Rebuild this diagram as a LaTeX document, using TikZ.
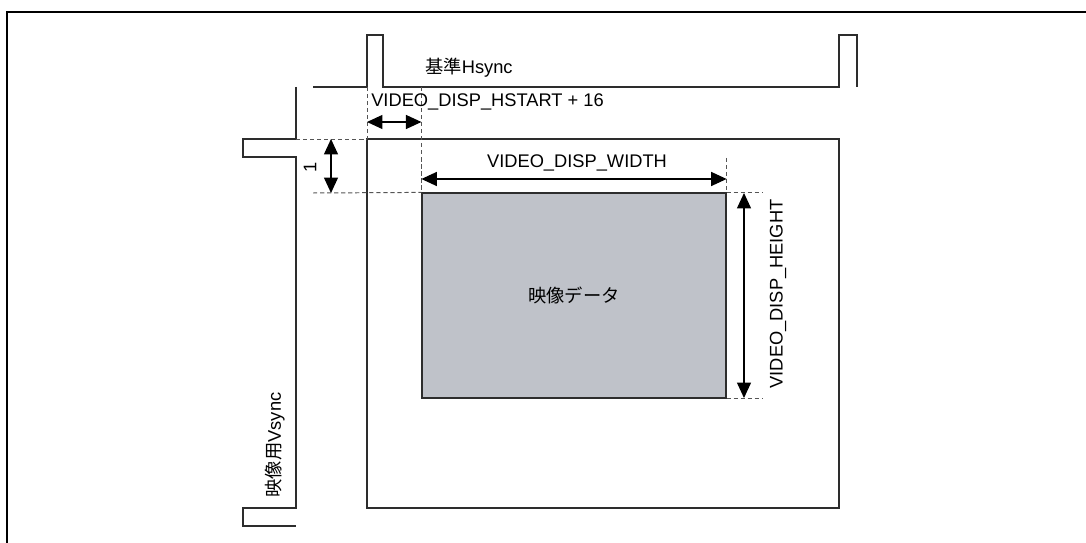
\documentclass[tikz,border=0pt]{standalone}
\usepackage{fontspec}
\setmainfont{Liberation Sans}
\newfontfamily\jpfont{Noto Sans CJK JP}
\usetikzlibrary{arrows.meta,positioning,calc}
\definecolor{lineDark}{RGB}{45, 45, 45}
\definecolor{guideGray}{RGB}{85, 85, 85}
\definecolor{dataGray}{RGB}{191, 194, 201}

\begin{document}
\begin{tikzpicture}[x=0.025cm, y=-0.025cm, font=\fontsize{13pt}{15pt}\selectfont,
    sigline/.style={draw=lineDark, line width=0.8pt},
    guide/.style={draw=guideGray, line width=0.7pt, dash pattern=on 3pt off 2pt},
    dimarrow/.style={{Triangle[length=11pt, width=10pt]}-{Triangle[length=11pt, width=10pt]}, draw=black, line width=0.8pt},
    dimlabel/.style={inner sep=0pt}]
  \useasboundingbox (0,0) rectangle (1086,543);

  % outer frame (only top and left edges are visible)
  \draw[line width=1.5pt] (7,543) -- (7,12) -- (1086,12);

  % key points
  \coordinate (hsStart) at (313,87);
  \coordinate (vsStart) at (296,87);
  \coordinate (winNW) at (367,139);
  \coordinate (winSE) at (839,508);

  % sync signals
  \draw[sigline] (hsStart) -| (367,35) -| (383,87) -| (839,35) -| (857,87);
  \draw[sigline] (vsStart) |- (243,139) |- (296,157) |- (243,508) |- (296,526);

  % window and picture area
  \draw[sigline] (winNW) rectangle (winSE);
  \node (data) [fill=dataGray, draw=lineDark, line width=0.8pt, inner sep=0pt,
      minimum width=7.6cm, minimum height=5.125cm] at (574,295.5) {\jpfont 映像データ};

  % guide lines
  \draw[guide] (367,87) -- (winNW);
  \draw[guide] (data.north west |- 0,87) -- (data.north west);
  \draw[guide] (296,139) -- (winNW);
  \draw[guide] (313,193) -- (data.north west);
  \draw[guide] (data.north east |- 0,158) -- (data.north east);
  \draw[guide] (data.north east) -- ++(36,0);
  \draw[guide] (data.south east) -- ++(36,0);

  % dimensions
  \draw[dimarrow] (367,122) -- (data.north west |- 0,122);
  \draw[dimarrow] (331,139) -- (331,193);
  \draw[dimarrow] (data.north west |- 0,179) -- (data.north east |- 0,179);
  \draw[dimarrow] (744,193) -- (744,398);

  % labels
  \node (hsLabel) [dimlabel, anchor=west] at (425,68) {{\jpfont 基準}Hsync};
  \node (hstartLabel) [dimlabel, anchor=west] at (371,102) {VIDEO\_DISP\_HSTART + 16};
  \node (widthLabel) [dimlabel] at (577,163) {VIDEO\_DISP\_WIDTH};
  \node (heightLabel) [dimlabel, rotate=90] at (778,294) {VIDEO\_DISP\_HEIGHT};
  \node (oneLabel) [dimlabel, rotate=90] at (310,167) {1};
  \node (vsLabel) [dimlabel, rotate=90] at (275,445) {{\jpfont 映像用}Vsync};
\end{tikzpicture}
\end{document}
